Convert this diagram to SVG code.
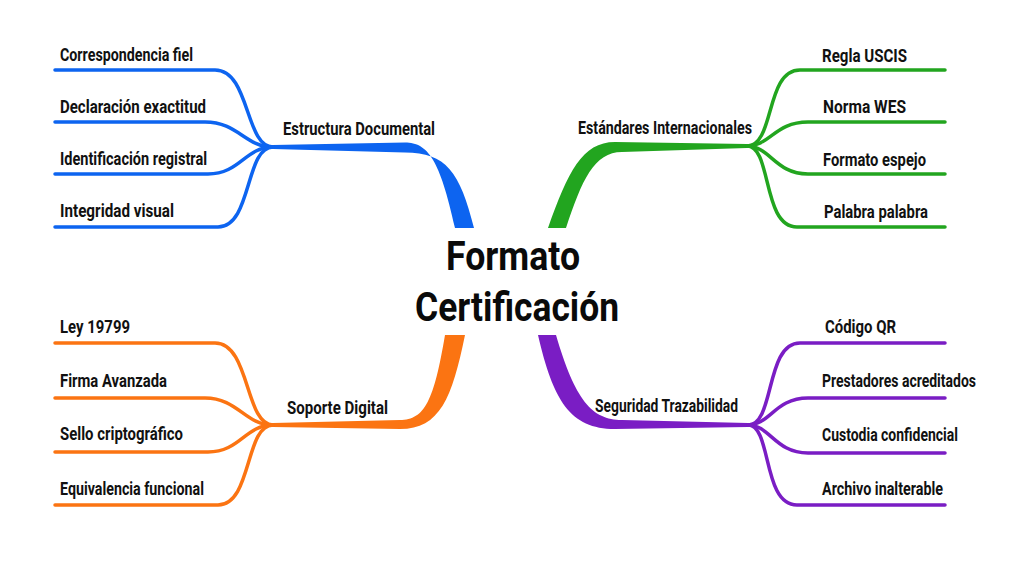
<svg xmlns="http://www.w3.org/2000/svg" width="1024" height="576" viewBox="0 0 1024 576">
<style>
.t{font-family:"Roboto","Liberation Sans",sans-serif;font-weight:700;font-size:19px;fill:#111;}
.c{font-family:"Roboto","Liberation Sans",sans-serif;font-weight:700;font-size:41px;fill:#0a0a0a;}
.l{fill:none;stroke-width:3.5;stroke-linecap:round;}
.b{stroke:#0d64f0;} .g{stroke:#22a51f;} .o{stroke:#fb7412;} .p{stroke:#7a1dc4;}
</style>
<rect width="1024" height="576" fill="#fff"/>
<g id="connectors">
  <path fill="#0d64f0" d="M 273 145 L 405 142.5 C 428 142.5, 440 160, 455 228 L 474 228 C 460 172, 446 152.5, 405 152.5 L 273 149 Z"/>
  <path class="l b" d="M 55 70 H 215 C 250 70, 245 147, 273 147"/>
  <path class="l b" d="M 55 122 H 205 C 238 122, 245 147, 273 147"/>
  <path class="l b" d="M 55 174 H 208 C 240 174, 245 147, 273 147"/>
  <path class="l b" d="M 55 227 H 218 C 252 227, 245 147, 273 147"/>

  <path fill="#22a51f" d="M 747 144 L 615 142 C 582 142, 568 172, 548 228 L 566 228 C 582 180, 594 152, 622 152 L 747 148 Z"/>
  <path class="l g" d="M 945 70 H 800 C 765 70, 775 146, 747 146"/>
  <path class="l g" d="M 945 122 H 808 C 775 122, 770 146, 747 146"/>
  <path class="l g" d="M 945 174 H 808 C 775 174, 770 146, 747 146"/>
  <path class="l g" d="M 945 227 H 797 C 762 227, 772 146, 747 146"/>

  <path fill="#fb7412" d="M 273 423 L 400 420 C 425 420, 434 400, 445 335 L 465 335 C 452 398, 440 429, 400 429 L 273 427 Z"/>
  <path class="l o" d="M 55 343 H 215 C 250 343, 245 425, 273 425"/>
  <path class="l o" d="M 55 398 H 205 C 238 398, 245 425, 273 425"/>
  <path class="l o" d="M 55 452 H 208 C 240 452, 245 425, 273 425"/>
  <path class="l o" d="M 55 505 H 218 C 252 505, 245 425, 273 425"/>

  <path fill="#7a1dc4" d="M 748 423 L 622 420 C 592 420, 575 400, 556 335 L 538 335 C 553 400, 570 429, 615 429 L 748 427 Z"/>
  <path class="l p" d="M 945 343 H 800 C 765 343, 775 425, 748 425"/>
  <path class="l p" d="M 945 398 H 808 C 775 398, 770 425, 748 425"/>
  <path class="l p" d="M 945 453 H 808 C 775 453, 770 425, 748 425"/>
  <path class="l p" d="M 945 505 H 797 C 762 505, 772 425, 748 425"/>
</g>
<g id="center">
  <text class="c" x="446" y="270" textLength="134" lengthAdjust="spacingAndGlyphs">Formato</text>
  <text class="c" x="415" y="321" textLength="204" lengthAdjust="spacingAndGlyphs">Certificación</text>
</g>
<g id="estructura">
  <text class="t" x="283" y="135" textLength="152" lengthAdjust="spacingAndGlyphs">Estructura Documental</text>
</g>
<g id="b1"><text class="t" x="60" y="61" textLength="133" lengthAdjust="spacingAndGlyphs">Correspondencia fiel</text></g>
<g id="b2"><text class="t" x="60" y="113" textLength="146" lengthAdjust="spacingAndGlyphs">Declaración exactitud</text></g>
<g id="b3"><text class="t" x="60" y="165" textLength="147" lengthAdjust="spacingAndGlyphs">Identificación registral</text></g>
<g id="b4"><text class="t" x="60" y="217" textLength="114" lengthAdjust="spacingAndGlyphs">Integridad visual</text></g>
<g id="estandares">
  <text class="t" x="578" y="134" textLength="174" lengthAdjust="spacingAndGlyphs">Estándares Internacionales</text>
</g>
<g id="g1"><text class="t" x="822" y="62" textLength="85" lengthAdjust="spacingAndGlyphs">Regla USCIS</text></g>
<g id="g2"><text class="t" x="823" y="113" textLength="83" lengthAdjust="spacingAndGlyphs">Norma WES</text></g>
<g id="g3"><text class="t" x="823" y="166" textLength="103" lengthAdjust="spacingAndGlyphs">Formato espejo</text></g>
<g id="g4"><text class="t" x="824" y="218" textLength="104" lengthAdjust="spacingAndGlyphs">Palabra palabra</text></g>
<g id="soporte">
  <text class="t" x="287" y="414" textLength="101" lengthAdjust="spacingAndGlyphs">Soporte Digital</text>
</g>
<g id="o1"><text class="t" x="60" y="333" textLength="70" lengthAdjust="spacingAndGlyphs">Ley 19799</text></g>
<g id="o2"><text class="t" x="60" y="387" textLength="107" lengthAdjust="spacingAndGlyphs">Firma Avanzada</text></g>
<g id="o3"><text class="t" x="60" y="440" textLength="123" lengthAdjust="spacingAndGlyphs">Sello criptográfico</text></g>
<g id="o4"><text class="t" x="60" y="495" textLength="144" lengthAdjust="spacingAndGlyphs">Equivalencia funcional</text></g>
<g id="seguridad">
  <text class="t" x="595" y="412" textLength="143" lengthAdjust="spacingAndGlyphs">Seguridad Trazabilidad</text>
</g>
<g id="p1"><text class="t" x="825" y="333" textLength="71" lengthAdjust="spacingAndGlyphs">Código QR</text></g>
<g id="p2"><text class="t" x="822" y="387" textLength="154" lengthAdjust="spacingAndGlyphs">Prestadores acreditados</text></g>
<g id="p3"><text class="t" x="822" y="441" textLength="136" lengthAdjust="spacingAndGlyphs">Custodia confidencial</text></g>
<g id="p4"><text class="t" x="822" y="495" textLength="121" lengthAdjust="spacingAndGlyphs">Archivo inalterable</text></g>
</svg>
